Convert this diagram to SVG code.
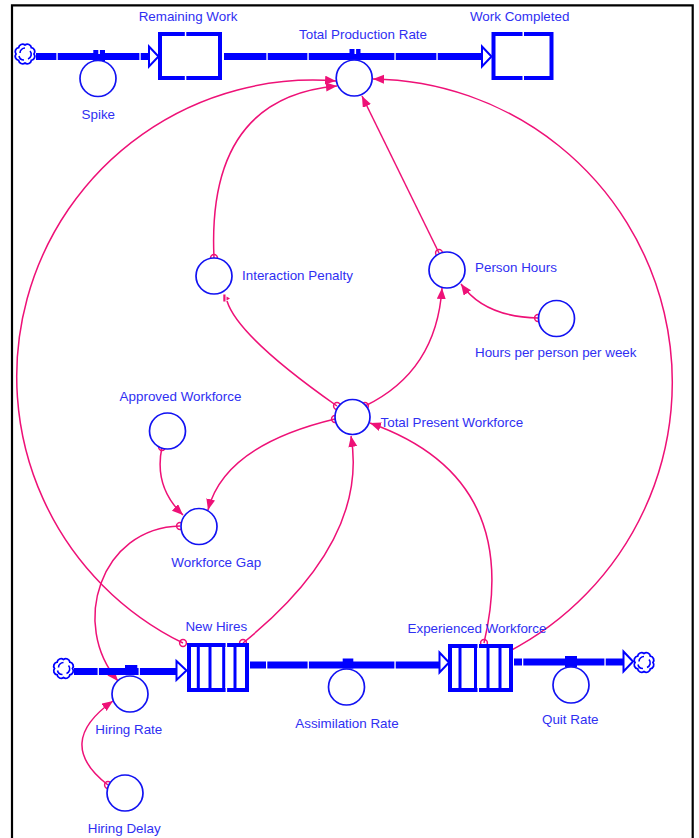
<svg xmlns="http://www.w3.org/2000/svg" width="699" height="838" viewBox="0 0 699 838">
<style>
.lbl{font-family:"Liberation Sans",Arial,sans-serif;font-size:13.4px;fill:#2f2ff2}
.aux{fill:#fff;stroke:#1212f2;stroke-width:1.7}
.pipe{stroke:#0000ff;stroke-width:7;fill:none}
.brk{fill:#fff}
.stock{fill:#fff;stroke:#0000ff;stroke-width:4}
.bar{stroke:#0000ff;stroke-width:3}
.head{fill:#fff;stroke:#0000ff;stroke-width:2;stroke-linejoin:miter}
.valve{fill:#0000ff}
.con{fill:none;stroke:#ee1177;stroke-width:1.5;marker-start:url(#o);marker-end:url(#a)}
</style>
<defs>
<marker id="a" markerUnits="userSpaceOnUse" markerWidth="12" markerHeight="10" refX="11" refY="4.5" orient="auto"><path d="M0,0 L11,4.5 L0,9 z" fill="#ee1177"/></marker>
<marker id="o" markerUnits="userSpaceOnUse" markerWidth="10" markerHeight="10" refX="5" refY="5"><circle cx="5" cy="5" r="3.4" fill="none" stroke="#ee1177" stroke-width="1.5"/></marker>
<g id="cloud">
<path d="M9,0 A4,4 0 0 1 6.36,6.36 A4,4 0 0 1 0,9 A4,4 0 0 1 -6.36,6.36 A4,4 0 0 1 -9,0 A4,4 0 0 1 -6.36,-6.36 A4,4 0 0 1 0,-9 A4,4 0 0 1 6.36,-6.36 A4,4 0 0 1 9,0 z" fill="#fff" stroke="#0000ff" stroke-width="1.8"/>
<path d="M-5,-1 A5,5 0 0 1 0,-6 M5,-3 A5,5 0 0 1 3,5 M-1,6 A5,5 0 0 1 -6,2" fill="none" stroke="#0000ff" stroke-width="1.6"/>
</g>
</defs>
<rect width="699" height="838" fill="#fff"/>
<path d="M12,838 V5.3 H692.7 V838" fill="none" stroke="#000" stroke-width="2.2"/>

<g id="connectors">
<path class="con" d="M183,643 A296.5,296.5 0 0 1 336,81"/>
<path class="con" d="M508,652 A303.4,303.4 0 0 0 373,79"/>
<path class="con" d="M214,258 Q206.5,97.5 337,86"/>
<path class="con" d="M439,253 L362,96"/>
<path d="M337,406 Q238,336.5 227,301" fill="none" stroke="#ee1177" stroke-width="1.5" marker-start="url(#o)"/>
<rect x="223.3" y="294.5" width="2.2" height="7" fill="#ee1177"/>
<path d="M226.5,296.5 L230,298.5 L226.5,300.5 z" fill="#ee1177"/>
<path class="con" d="M365,406 Q436.5,371.5 442,288"/>
<path class="con" d="M538,318 Q484.5,317 461,284"/>
<path class="con" d="M335,419 Q224.5,445.5 208,510"/>
<path class="con" d="M162,447 Q153.5,487 183,515"/>
<path class="con" d="M243,643 Q369,541 351,436"/>
<path class="con" d="M484,643 Q523,477 370,423"/>
<path class="con" d="M180,526 C100,528 70,625 118,681"/>
<path class="con" d="M108,785 Q53.5,743 113,701"/>
</g>

<g id="flow-spike-pipe">
<use href="#cloud" x="25" y="54"/>
<line class="pipe" x1="36" y1="56.5" x2="150" y2="56.5"/>
<rect class="brk" x="56.4" y="52" width="1.3" height="9"/>
<rect class="brk" x="139.4" y="52" width="1.3" height="9"/>
<polygon class="head" points="149,46.5 158.5,56.5 149,66.5"/>
</g>
<g id="Spike">
<rect class="valve" x="93.3" y="50" width="11.7" height="11"/>
<rect class="brk" x="98.3" y="50" width="1.6" height="4"/>
<circle class="aux" cx="98" cy="78.5" r="18"/>
<text class="lbl" x="98.3" y="119" text-anchor="middle">Spike</text>
</g>
<g id="RemainingWork">
<rect class="stock" x="160" y="34" width="60" height="44"/>
<rect class="brk" x="184.8" y="31" width="1.5" height="6"/>
<rect class="brk" x="184.8" y="75" width="1.5" height="6"/>
<text class="lbl" x="188" y="21" text-anchor="middle">Remaining Work</text>
</g>
<g id="flow-production-pipe">
<line class="pipe" x1="224" y1="56.5" x2="483" y2="56.5"/>
<rect class="brk" x="266.4" y="52" width="1.3" height="9"/>
<rect class="brk" x="307.4" y="52" width="1.3" height="9"/>
<rect class="brk" x="394.4" y="52" width="1.3" height="9"/>
<rect class="brk" x="436.4" y="52" width="1.3" height="9"/>
<polygon class="head" points="482,46.5 491.5,56.5 482,66.5"/>
</g>
<g id="TotalProductionRate">
<rect class="valve" x="349.5" y="49" width="11" height="11"/>
<rect class="brk" x="354.5" y="49" width="1.6" height="5"/>
<circle class="aux" cx="354.2" cy="78" r="18"/>
<text class="lbl" x="363" y="39.3" text-anchor="middle">Total Production Rate</text>
</g>
<g id="WorkCompleted">
<rect class="stock" x="493.5" y="34" width="58" height="44"/>
<rect class="brk" x="522.5" y="31" width="1.5" height="6"/>
<rect class="brk" x="522.5" y="75" width="1.5" height="6"/>
<text class="lbl" x="519.7" y="21" text-anchor="middle">Work Completed</text>
</g>

<g id="InteractionPenalty">
<circle class="aux" cx="214" cy="276" r="18"/>
<text class="lbl" x="242" y="280.3">Interaction Penalty</text>
</g>
<g id="PersonHours">
<circle class="aux" cx="447" cy="270" r="18"/>
<text class="lbl" x="475" y="272">Person Hours</text>
</g>
<g id="HoursPerPersonPerWeek">
<circle class="aux" cx="556.5" cy="318.5" r="18"/>
<text class="lbl" x="475" y="356.7">Hours per person per week</text>
</g>
<g id="TotalPresentWorkforce">
<circle class="aux" cx="352.5" cy="417" r="17.5"/>
<text class="lbl" x="380.5" y="426.7">Total Present Workforce</text>
</g>
<g id="ApprovedWorkforce">
<circle class="aux" cx="167.5" cy="431" r="18"/>
<text class="lbl" x="180.5" y="400.7" text-anchor="middle">Approved Workforce</text>
</g>
<g id="WorkforceGap">
<circle class="aux" cx="199" cy="526.5" r="18"/>
<text class="lbl" x="216.2" y="566.7" text-anchor="middle">Workforce Gap</text>
</g>

<g id="flow-hiring-pipe">
<use href="#cloud" x="63.5" y="668.5"/>
<line class="pipe" x1="74" y1="671.5" x2="177" y2="671.5"/>
<rect class="brk" x="97.6" y="667" width="1.3" height="9"/>
<rect class="brk" x="138.6" y="667" width="1.3" height="9"/>
<polygon class="head" points="176.5,661 186.5,670.5 176.5,680"/>
</g>
<g id="HiringRate">
<rect class="valve" x="125" y="665" width="12.3" height="10"/>
<circle class="aux" cx="130" cy="694" r="18"/>
<text class="lbl" x="128.8" y="734" text-anchor="middle">Hiring Rate</text>
</g>
<g id="HiringDelay">
<circle class="aux" cx="125" cy="793" r="18"/>
<text class="lbl" x="124.2" y="833.3" text-anchor="middle">Hiring Delay</text>
</g>
<g id="NewHires">
<rect class="stock" x="189" y="645" width="58" height="45"/>
<line class="bar" x1="198.3" y1="645" x2="198.3" y2="690"/>
<line class="bar" x1="210" y1="645" x2="210" y2="690"/>
<line class="bar" x1="223.7" y1="645" x2="223.7" y2="690"/>
<line class="bar" x1="235" y1="645" x2="235" y2="690"/>
<rect class="brk" x="225.6" y="642" width="1.5" height="6"/>
<rect class="brk" x="225.6" y="687" width="1.5" height="6"/>
<text class="lbl" x="216.3" y="630.7" text-anchor="middle">New Hires</text>
</g>
<g id="flow-assimilation-pipe">
<line class="pipe" x1="250" y1="665" x2="440" y2="665"/>
<rect class="brk" x="266" y="660" width="1.3" height="10"/>
<rect class="brk" x="307.6" y="660" width="1.3" height="10"/>
<rect class="brk" x="394.4" y="660" width="1.3" height="10"/>
<polygon class="head" points="439.5,652.5 449,662.5 439.5,672.5"/>
</g>
<g id="AssimilationRate">
<rect class="valve" x="342.7" y="658.5" width="10.6" height="10"/>
<circle class="aux" cx="346.5" cy="687" r="18"/>
<text class="lbl" x="347" y="727.7" text-anchor="middle">Assimilation Rate</text>
</g>
<g id="ExperiencedWorkforce">
<rect class="stock" x="450" y="646" width="61" height="44"/>
<line class="bar" x1="460" y1="646" x2="460" y2="690"/>
<line class="bar" x1="475.5" y1="646" x2="475.5" y2="690"/>
<line class="bar" x1="488" y1="646" x2="488" y2="690"/>
<line class="bar" x1="500" y1="646" x2="500" y2="690"/>
<rect class="brk" x="477.5" y="643" width="1.5" height="6"/>
<rect class="brk" x="477.5" y="687" width="1.5" height="6"/>
<text class="lbl" x="477" y="633.3" text-anchor="middle">Experienced Workforce</text>
</g>
<g id="flow-quit-pipe">
<line class="pipe" x1="514" y1="662" x2="624" y2="662"/>
<rect class="brk" x="522" y="657" width="1.3" height="10"/>
<rect class="brk" x="604.4" y="657" width="1.3" height="10"/>
<polygon class="head" points="623.5,651.5 633,661.5 623.5,671.5"/>
<use href="#cloud" x="644" y="662.5"/>
</g>
<g id="QuitRate">
<rect class="valve" x="565" y="656" width="12" height="11"/>
<circle class="aux" cx="571" cy="685" r="18"/>
<text class="lbl" x="570.3" y="724.3" text-anchor="middle">Quit Rate</text>
</g>
</svg>
